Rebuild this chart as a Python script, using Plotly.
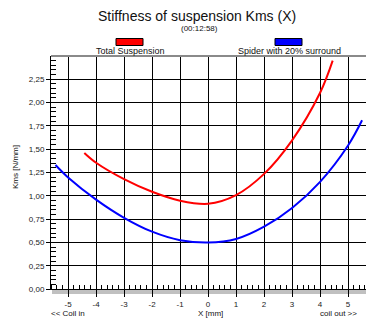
import plotly.graph_objects as go

# ---- data ----
total_x = [-4.42, -4.0, -3.0, -2.0, -1.0, 0.0, 1.0, 2.0, 3.0, 4.0, 4.45]
total_y = [1.46, 1.355, 1.179, 1.043, 0.948, 0.915, 1.008, 1.235, 1.595, 2.105, 2.45]

spider_x = [-5.45, -5.0, -4.0, -3.0, -2.0, -1.0, 0.0, 1.0, 2.0, 3.0, 4.0, 5.0, 5.5]
spider_y = [1.33, 1.197, 0.959, 0.764, 0.615, 0.524, 0.498, 0.536, 0.668, 0.87, 1.15, 1.54, 1.81]

series_names = ["Total Suspension", "Spider with 20% surround"]
series_colors = ["#ff0000", "#0000ff"]

x_ticks = [-5, -4, -3, -2, -1, 0, 1, 2, 3, 4, 5]
y_ticks = [0, 0.25, 0.5, 0.75, 1.0, 1.25, 1.5, 1.75, 2.0, 2.25]
y_ticktext = ["0,00", "0,25", "0,50", "0,75", "1,00", "1,25", "1,50", "1,75", "2,00", "2,25"]

title = "Stiffness of suspension Kms (X)"
subtitle = "(00:12:58)"
y_title = "Kms [N/mm]"
x_title = "X [mm]"
x_left_note = "<< Coil in"
x_right_note = "coil out >>"

# ---- layout geometry (pixels) ----
W, H = 367, 320
L, R, T, B = 51, 366, 56, 289
FONT = "Liberation Sans, Arial, sans-serif"


def px(x):
    return (x - L) / (R - L)


def py(y):
    return (B - y) / (B - T)


fig = go.Figure()
fig.add_trace(go.Scatter(x=total_x, y=total_y, mode="lines",
                         line=dict(color=series_colors[0], width=2, shape="spline", smoothing=1),
                         name=series_names[0], showlegend=False))
fig.add_trace(go.Scatter(x=spider_x, y=spider_y, mode="lines",
                         line=dict(color=series_colors[1], width=2, shape="spline", smoothing=1),
                         name=series_names[1], showlegend=False))

shapes = []
# gray band under x axis
shapes.append(dict(type="rect", xref="paper", yref="paper", x0=px(L + 1), x1=px(R), y0=py(294), y1=py(289.5),
                   fillcolor="#c0c0c0", line=dict(width=0), layer="below"))
# top gray border line
shapes.append(dict(type="line", xref="paper", yref="paper", x0=0, x1=1, y0=1, y1=1,
                   line=dict(color="#8a8a8a", width=2)))
# legend boxes
legend_boxes = [(116, 143), (275, 302)]
for (x0, x1), c in zip(legend_boxes, series_colors):
    shapes.append(dict(type="rect", xref="paper", yref="paper", x0=px(x0), x1=px(x1), y0=py(45.5), y1=py(38.5),
                       fillcolor=c, line=dict(color="black", width=1)))

annotations = [
    dict(text=title, x=px(197), y=py(16), xref="paper", yref="paper", showarrow=False,
         font=dict(size=14, color="#111", family=FONT), xanchor="center", yanchor="middle"),
    dict(text=subtitle, x=px(199), y=py(28), xref="paper", yref="paper", showarrow=False,
         font=dict(size=8, color="#111", family=FONT), xanchor="center", yanchor="middle"),
    dict(text=series_names[0], x=px(130.5), y=py(51), xref="paper", yref="paper", showarrow=False,
         font=dict(size=9, color="#111", family=FONT), xanchor="center", yanchor="middle"),
    dict(text=series_names[1], x=px(289.5), y=py(51), xref="paper", yref="paper", showarrow=False,
         font=dict(size=9, color="#111", family=FONT), xanchor="center", yanchor="middle"),
    dict(text=y_title, x=px(15), y=py(167), xref="paper", yref="paper", showarrow=False, textangle=-90,
         font=dict(size=8, color="#111", family=FONT), xanchor="center", yanchor="middle"),
    dict(text=x_left_note, x=px(68), y=py(313), xref="paper", yref="paper", showarrow=False,
         font=dict(size=8, color="#111", family=FONT), xanchor="center", yanchor="middle"),
    dict(text=x_title, x=px(210), y=py(313), xref="paper", yref="paper", showarrow=False,
         font=dict(size=8, color="#111", family=FONT), xanchor="center", yanchor="middle"),
    dict(text=x_right_note, x=px(338), y=py(313), xref="paper", yref="paper", showarrow=False,
         font=dict(size=8, color="#111", family=FONT), xanchor="center", yanchor="middle"),
]

fig.update_layout(
    width=W, height=H,
    margin=dict(l=L, r=W - R, t=T, b=H - B, pad=0),
    paper_bgcolor="white", plot_bgcolor="white",
    font=dict(family=FONT, size=8, color="#222"),
    shapes=shapes, annotations=annotations,
    xaxis=dict(range=[-5.61, 5.64], tickvals=x_ticks, ticktext=[str(v) for v in x_ticks],
               showgrid=True, gridcolor="black", gridwidth=1, zeroline=False,
               showline=True, linecolor="black", linewidth=1,
               ticks="outside", ticklen=7, tickcolor="black", tickwidth=1,
               tickfont=dict(size=8, family=FONT, color="#222"),
               minor=dict(dtick=0.2, tick0=0, ticks="inside", ticklen=4, tickcolor="black", showgrid=False)),
    yaxis=dict(range=[0, 2.5], tickvals=y_ticks, ticktext=y_ticktext,
               showgrid=True, gridcolor="black", gridwidth=1, zeroline=False,
               showline=True, linecolor="black", linewidth=1,
               ticks="outside", ticklen=4, tickcolor="black", tickwidth=1,
               tickfont=dict(size=8, family=FONT, color="#222"),
               minor=dict(dtick=0.05, tick0=0, ticks="inside", ticklen=5, tickcolor="black", showgrid=False)),
)

fig.write_html("out.html")
